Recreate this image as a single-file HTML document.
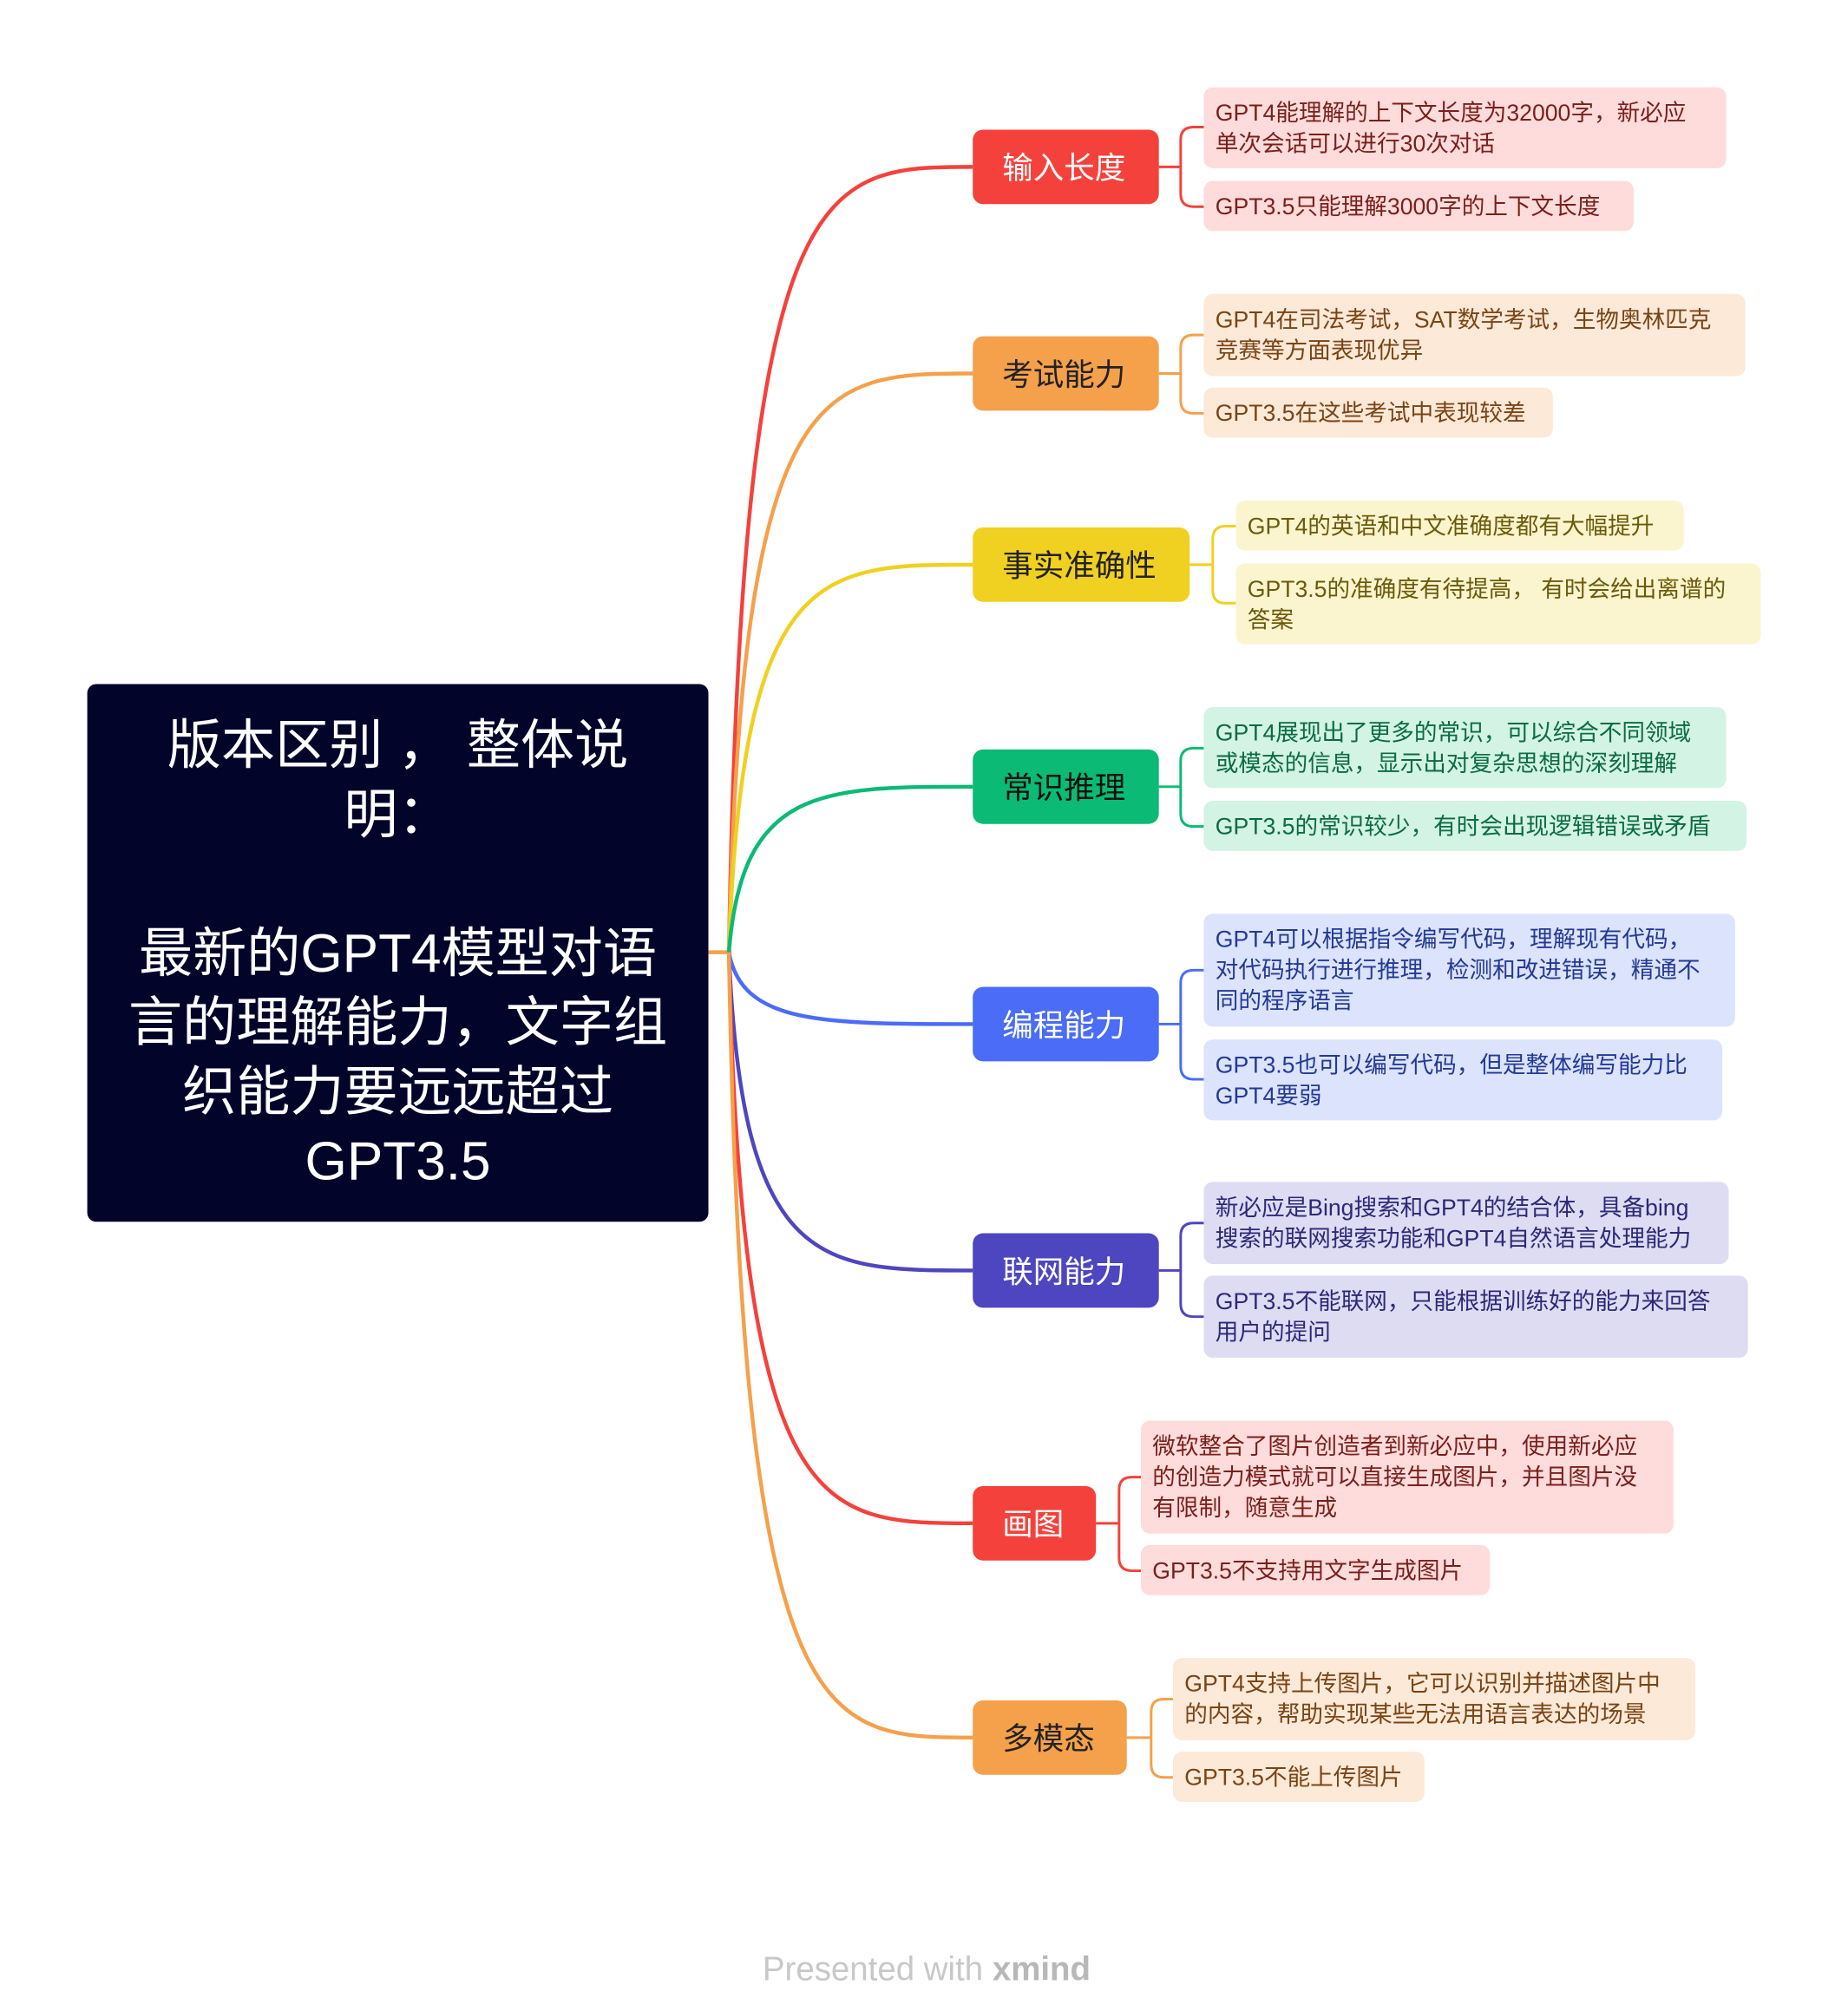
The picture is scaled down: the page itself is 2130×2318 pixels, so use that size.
<!DOCTYPE html>
<html><head><meta charset="utf-8"><style>
html,body{margin:0;padding:0;background:#fff;}
svg{display:block;}
text{font-family:"Liberation Sans","Noto Sans CJK SC",sans-serif;}
</style></head><body>
<svg width="2130" height="2318" viewBox="0 0 1440 1567" xmlns="http://www.w3.org/2000/svg">
<rect width="1440" height="1567" fill="#fff"/>
<!-- main connectors -->
<g fill="none" stroke-width="3">
<line x1="552" y1="742" x2="570" y2="742" stroke="#f5a04b"/>
<path d="M568,742 C578,130 640,130 758,130" stroke="#f5413b"/>
<path d="M568,742 C578,291 640,291 758,291" stroke="#f5a04b"/>
<path d="M568,742 C578,440 640,440 758,440" stroke="#f0d020"/>
<path d="M568,742 C578,613 640,613 758,613" stroke="#0bba74"/>
<path d="M568,742 C578,798 640,798 758,798" stroke="#4a6cf7"/>
<path d="M568,742 C578,990 640,990 758,990" stroke="#4e46c0"/>
<path d="M568,742 C578,1187 640,1187 758,1187" stroke="#f5413b"/>
<path d="M568,742 C578,1354 640,1354 758,1354" stroke="#f5a04b"/>
</g>
<!-- leaf connectors -->
<g fill="none" stroke-width="2">
<path d="M903,130 H920 M938,99 H930 Q920,99 920,109 V151 Q920,161 930,161 H938" stroke="#f5413b"/>
<path d="M903,291 H920 M938,261 H930 Q920,261 920,271 V312 Q920,322 930,322 H938" stroke="#f5a04b"/>
<path d="M927,440 H945 M963,410 H955 Q945,410 945,420 V460 Q945,470 955,470 H963" stroke="#f0d020"/>
<path d="M903,613 H920 M938,583 H930 Q920,583 920,593 V634 Q920,644 930,644 H938" stroke="#0bba74"/>
<path d="M903,798 H920 M938,756 H930 Q920,756 920,766 V831 Q920,841 930,841 H938" stroke="#4a6cf7"/>
<path d="M903,990 H920 M938,953 H930 Q920,953 920,963 V1016 Q920,1026 930,1026 H938" stroke="#4e46c0"/>
<path d="M854,1187 H872 M889,1151 H882 Q872,1151 872,1161 V1214 Q872,1224 882,1224 H889" stroke="#f5413b"/>
<path d="M878,1354 H897 M914,1324 H907 Q897,1324 897,1334 V1375 Q897,1385 907,1385 H914" stroke="#f5a04b"/>
</g>
<!-- root -->
<rect x="68" y="533" width="484" height="419" rx="7" fill="#02042a"/>
<g fill="#fff" font-size="42" text-anchor="middle">
<text x="310" y="595">版本区别 ， 整体说</text>
<text x="310" y="649">明：</text>
<text x="310" y="757">最新的GPT4模型对语</text>
<text x="310" y="811">言的理解能力，文字组</text>
<text x="310" y="865">织能力要远远超过</text>
<text x="310" y="919">GPT3.5</text>
</g>
<!-- branches -->
<g font-size="24">
<rect x="758" y="101" width="145" height="58" rx="8" fill="#f5413b"/><text x="781" y="139" fill="#fff">输入长度</text>
<rect x="758" y="262" width="145" height="58" rx="8" fill="#f5a04b"/><text x="781" y="300" fill="#222">考试能力</text>
<rect x="758" y="411" width="169" height="58" rx="8" fill="#f0d020"/><text x="781" y="449" fill="#222">事实准确性</text>
<rect x="758" y="584" width="145" height="58" rx="8" fill="#0bba74"/><text x="781" y="622" fill="#111">常识推理</text>
<rect x="758" y="769" width="145" height="58" rx="8" fill="#4a6cf7"/><text x="781" y="807" fill="#fff">编程能力</text>
<rect x="758" y="961" width="145" height="58" rx="8" fill="#4e46c0"/><text x="781" y="999" fill="#fff">联网能力</text>
<rect x="758" y="1158" width="96" height="58" rx="8" fill="#f5413b"/><text x="781" y="1196" fill="#fff">画图</text>
<rect x="758" y="1325" width="120" height="58" rx="8" fill="#f5a04b"/><text x="781" y="1363" fill="#222">多模态</text>
</g>
<!-- leaves -->
<g font-size="18">
<rect x="938" y="68" width="407" height="63" rx="7" fill="#fddcdb"/>
<text x="947" y="94" fill="#7a1f1a">GPT4能理解的上下文长度为32000字，新必应</text>
<text x="947" y="118" fill="#7a1f1a">单次会话可以进行30次对话</text>
<rect x="938" y="141" width="335" height="39" rx="7" fill="#fddcdb"/>
<text x="947" y="167" fill="#7a1f1a">GPT3.5只能理解3000字的上下文长度</text>

<rect x="938" y="229" width="422" height="64" rx="7" fill="#fde9d8"/>
<text x="947" y="255" fill="#7a4414">GPT4在司法考试，SAT数学考试，生物奥林匹克</text>
<text x="947" y="279" fill="#7a4414">竞赛等方面表现优异</text>
<rect x="938" y="302" width="272" height="39" rx="7" fill="#fde9d8"/>
<text x="947" y="328" fill="#7a4414">GPT3.5在这些考试中表现较差</text>

<rect x="963" y="390" width="349" height="39" rx="7" fill="#fbf5cf"/>
<text x="972" y="416" fill="#6b5a0a">GPT4的英语和中文准确度都有大幅提升</text>
<rect x="963" y="439" width="409" height="63" rx="7" fill="#fbf5cf"/>
<text x="972" y="465" fill="#6b5a0a">GPT3.5的准确度有待提高， 有时会给出离谱的</text>
<text x="972" y="489" fill="#6b5a0a">答案</text>

<rect x="938" y="551" width="407" height="63" rx="7" fill="#d3f3e4"/>
<text x="947" y="577" fill="#0a6b44">GPT4展现出了更多的常识，可以综合不同领域</text>
<text x="947" y="601" fill="#0a6b44">或模态的信息，显示出对复杂思想的深刻理解</text>
<rect x="938" y="624" width="423" height="39" rx="7" fill="#d3f3e4"/>
<text x="947" y="650" fill="#0a6b44">GPT3.5的常识较少，有时会出现逻辑错误或矛盾</text>

<rect x="938" y="712" width="414" height="88" rx="7" fill="#dbe3fd"/>
<text x="947" y="738" fill="#233a94">GPT4可以根据指令编写代码，理解现有代码，</text>
<text x="947" y="762" fill="#233a94">对代码执行进行推理，检测和改进错误，精通不</text>
<text x="947" y="786" fill="#233a94">同的程序语言</text>
<rect x="938" y="810" width="404" height="63" rx="7" fill="#dbe3fd"/>
<text x="947" y="836" fill="#233a94">GPT3.5也可以编写代码，但是整体编写能力比</text>
<text x="947" y="860" fill="#233a94">GPT4要弱</text>

<rect x="938" y="921" width="409" height="64" rx="7" fill="#dddcf2"/>
<text x="947" y="947" fill="#2d2878">新必应是Bing搜索和GPT4的结合体，具备bing</text>
<text x="947" y="971" fill="#2d2878">搜索的联网搜索功能和GPT4自然语言处理能力</text>
<rect x="938" y="994" width="424" height="64" rx="7" fill="#dddcf2"/>
<text x="947" y="1020" fill="#2d2878">GPT3.5不能联网，只能根据训练好的能力来回答</text>
<text x="947" y="1044" fill="#2d2878">用户的提问</text>

<rect x="889" y="1107" width="415" height="88" rx="7" fill="#fddcdb"/>
<text x="898" y="1133" fill="#7a1f1a">微软整合了图片创造者到新必应中，使用新必应</text>
<text x="898" y="1157" fill="#7a1f1a">的创造力模式就可以直接生成图片，并且图片没</text>
<text x="898" y="1181" fill="#7a1f1a">有限制，随意生成</text>
<rect x="889" y="1204" width="272" height="39" rx="7" fill="#fddcdb"/>
<text x="898" y="1230" fill="#7a1f1a">GPT3.5不支持用文字生成图片</text>

<rect x="914" y="1292" width="407" height="64" rx="7" fill="#fde9d8"/>
<text x="923" y="1318" fill="#7a4414">GPT4支持上传图片，它可以识别并描述图片中</text>
<text x="923" y="1342" fill="#7a4414">的内容，帮助实现某些无法用语言表达的场景</text>
<rect x="914" y="1365" width="196" height="39" rx="7" fill="#fde9d8"/>
<text x="923" y="1391" fill="#7a4414">GPT3.5不能上传图片</text>
</g>
<text x="722" y="1543" font-size="26" fill="#c8c8c8" text-anchor="middle">Presented with <tspan font-weight="bold" fill="#b8b8b8">xmind</tspan></text>
</svg>
</body></html>
